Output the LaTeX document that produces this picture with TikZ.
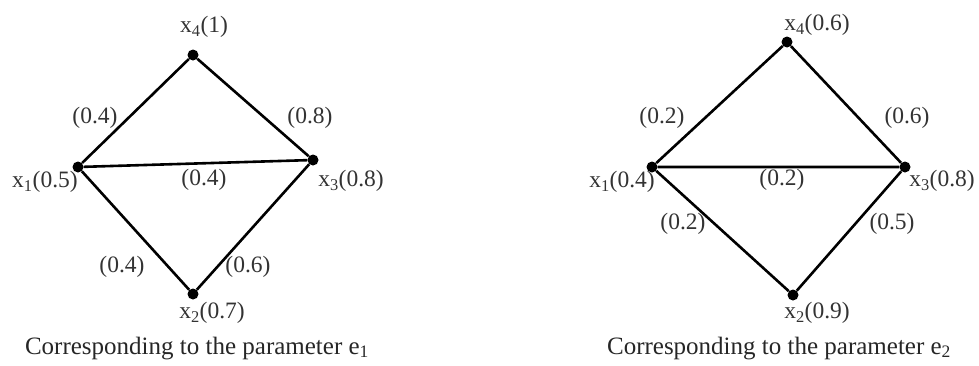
\documentclass[tikz,border=0pt]{standalone}
\usepackage{fontspec}
\setmainfont{Liberation Serif}
\usetikzlibrary{positioning}
\tikzset{
  vtx/.style={circle, fill=black, inner sep=0pt, minimum size=11pt},
  edge/.style={line width=2.6pt, black},
  lbl/.style={font=\fontsize{23.5}{26}\selectfont, inner sep=0pt, text=black!80},
  captxt/.style={font=\fontsize{25}{28}\selectfont, inner sep=0pt, text=black!85, anchor=base},
}
\begin{document}
\begin{tikzpicture}[x=1pt, y=-1pt]
\useasboundingbox (0,0) rectangle (979,365);
% parameter e1
\node[vtx] (a4) at (193,55) {};
\node[vtx] (a1) at (78,167) {};
\node[vtx] (a3) at (313,160) {};
\node[vtx] (a2) at (193,294) {};
\draw[edge] (a1) -- (a4) -- (a3) -- (a1) -- (a2) -- (a3);
\node[lbl] (a4l) at (204,27) {x\textsubscript{4}(1)};
\node[lbl] (a1l) at (45,182) {x\textsubscript{1}(0.5)};
\node[lbl] (a3l) at (351,181) {x\textsubscript{3}(0.8)};
\node[lbl] (a2l) at (212,313) {x\textsubscript{2}(0.7)};
\node[lbl] (a14) at (95,118) {(0.4)};
\node[lbl] (a43) at (310,118) {(0.8)};
\node[lbl] (a13) at (204,180) {(0.4)};
\node[lbl] (a12) at (122,267) {(0.4)};
\node[lbl] (a23) at (248,267) {(0.6)};
\node[captxt] (acap) at (197,354) {Corresponding to the parameter e\textsubscript{1}};
% parameter e2
\node[vtx] (b4) at (787,42) {};
\node[vtx] (b1) at (652,167) {};
\node[vtx] (b3) at (905,167) {};
\node[vtx] (b2) at (793,295) {};
\draw[edge] (b1) -- (b4) -- (b3) -- (b1) -- (b2) -- (b3);
\node[lbl] (b4l) at (817,25) {x\textsubscript{4}(0.6)};
\node[lbl] (b1l) at (622,182) {x\textsubscript{1}(0.4)};
\node[lbl] (b3l) at (942,181) {x\textsubscript{3}(0.8)};
\node[lbl] (b2l) at (817,313) {x\textsubscript{2}(0.9)};
\node[lbl] (b14) at (662,118) {(0.2)};
\node[lbl] (b43) at (907,118) {(0.6)};
\node[lbl] (b13) at (782,180) {(0.2)};
\node[lbl] (b12) at (683,224) {(0.2)};
\node[lbl] (b23) at (892,224) {(0.5)};
\node[captxt] (bcap) at (779,354) {Corresponding to the parameter e\textsubscript{2}};
\end{tikzpicture}
\end{document}
